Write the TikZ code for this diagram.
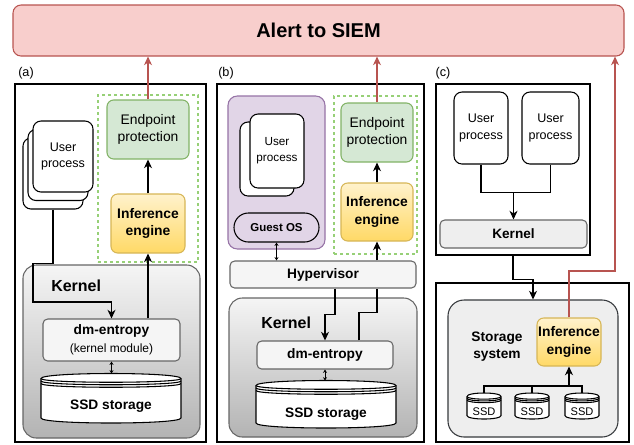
\documentclass[tikz,border=0pt]{standalone}
\usepackage{fontspec}
\setmainfont{Liberation Sans}
\usetikzlibrary{arrows.meta}
\definecolor{alertfill}{HTML}{F8CECC}
\definecolor{alertline}{HTML}{B85450}
\definecolor{epfill}{HTML}{D5E8D4}
\definecolor{epline}{HTML}{82B366}
\definecolor{dashline}{HTML}{97D077}
\definecolor{ietop}{HTML}{FFF2CC}
\definecolor{iebot}{HTML}{FFD966}
\definecolor{ieline}{HTML}{D6B656}
\definecolor{vmfill}{HTML}{E1D5E7}
\definecolor{vmline}{HTML}{9673A6}
\definecolor{modfill}{HTML}{F5F5F5}
\definecolor{modline}{HTML}{666666}
\definecolor{kerbot}{HTML}{B3B3B3}
\definecolor{stfill}{HTML}{EEEEEE}
\definecolor{stline}{HTML}{36393D}

\tikzset{
  spot/.style n args={4}{at={({(#1+#3)/2},{(#2+#4)/2})},
    minimum width={(#3-#1)*0.75pt}, minimum height={(#4-#2)*0.75pt}},
  box/.style={inner sep=0pt, line width=0.8pt, align=center},
  panel/.style={box, draw, fill=white},
  alertbox/.style={box, draw=alertline, fill=alertfill, rounded corners=6pt, font=\fontsize{15}{18}\selectfont\bfseries},
  epbox/.style={box, draw=epline, fill=epfill, rounded corners=5pt, font=\fontsize{10.4}{12.75}\selectfont},
  iebox/.style={box, draw=ieline, top color=ietop, bottom color=iebot, rounded corners=5pt, font=\fontsize{10.4}{13.3}\selectfont\bfseries},
  dashbox/.style={box, draw=dashline, dash pattern=on 2.5pt off 2pt},
  userbox/.style={box, draw, fill=white, rounded corners=6pt, font=\fontsize{9.4}{12.4}\selectfont},
  modbox/.style={box, draw=modline, fill=modfill, rounded corners=3.5pt, font=\fontsize{10.3}{13.5}\selectfont\bfseries},
  kerbox/.style={box, draw=modline, top color=modfill, bottom color=kerbot, rounded corners=10pt},
  vmbox/.style={box, draw=vmline, fill=vmfill, rounded corners=7pt},
  osbox/.style={box, draw, fill=vmfill, rounded corners=10.8pt, font=\fontsize{8.6}{10}\selectfont\bfseries},
  stbox/.style={box, draw=stline, fill=stfill, rounded corners=12pt},
  kertext/.style={inner sep=0pt, font=\fontsize{12}{14}\selectfont\bfseries},
  boldtxt/.style={inner sep=0pt, align=center, font=\fontsize{10.3}{12.75}\selectfont\bfseries},
  smalltxt/.style={inner sep=0pt, font=\fontsize{8.3}{10}\selectfont},
  panellab/.style={inner sep=0pt, font=\fontsize{9.5}{11}\selectfont},
  dstore/.style={draw, fill=white, line width=0.8pt},
  arr/.style={-{Stealth[length=6.5pt, width=6pt, inset=2pt]}, line width=0.8pt},
  redarr/.style={arr, draw=alertline},
  dbl/.style={{Stealth[length=2.5pt, width=3pt]}-{Stealth[length=2.5pt, width=3pt]}, line width=0.5pt}
}

% x1 y1 x2 y2 dy name-of-top
\newcommand{\datastore}[6]{%
  \draw[dstore] (#1,#2+#5) .. controls (#1,#2-#5/3) and (#3,#2-#5/3) .. (#3,#2+#5)
    -- (#3,#4-#5) .. controls (#3,#4+#5/3) and (#1,#4+#5/3) .. (#1,#4-#5) -- cycle;
  \foreach \k in {0,0.5,1}
    \draw[line width=0.8pt] (#1,#2+#5+\k*#5) .. controls (#1,#2+2*#5+\k*#5) and (#3,#2+2*#5+\k*#5) .. (#3,#2+#5+\k*#5);
  \coordinate (#6) at ({(#1+#3)/2},#2);
}

\begin{document}
\begin{tikzpicture}[x=0.75pt, y=-0.75pt]
\useasboundingbox (0,0) rectangle (634,444);

% alert
\node[alertbox, spot={13}{5}{624}{56}] (alert) {Alert to SIEM};

% (a) host
\node[panellab] (labA) at (26,73) {(a)};
\node[panel, spot={15}{84}{206}{442}] (outA) {};
\node[dashbox, spot={98}{95}{198}{262}] (dashA) {};
\node[epbox, spot={107}{100}{189}{159}] (epA) {Endpoint\\protection};
\node[iebox, spot={111}{194}{185}{253}] (ieA) {Inference\\engine};
\node[userbox, spot={23}{138}{83}{209}] (userA3) {};
\node[userbox, spot={28}{129.5}{88}{200.5}] (userA2) {};
\node[userbox, spot={33}{121}{93}{192}] (userA) {User\\process};
\node[kerbox, spot={23}{265}{200}{438}] (kerA) {};
\node[kertext, anchor=west] (kerlabA) at (51,286) {Kernel};
\node[modbox, spot={43}{319}{180}{361}] (dmA) {dm-entropy\\\fontsize{9}{11}\selectfont\mdseries (kernel module)};
\datastore{41}{373.5}{181}{423}{5}{ssdtopA}
\node[boldtxt] (ssdA) at (111,406) {SSD storage};

\draw[arr] (userA3.south) -- ++(0,54) -| (33,302) -| (dmA.north);
\draw[arr] (ieA.south |- dmA.north) -- (ieA.south);
\draw[arr] (ieA.north) -- (epA.south);
\draw[redarr] (epA.north) -- (epA.north |- alert.south);
\draw[dbl] (dmA.south) -- (dmA.south |- ssdtopA);

% (b) virtual machine
\node[panellab] (labB) at (226,73) {(b)};
\node[panel, spot={217}{84}{424}{442}] (outB) {};
\node[vmbox, spot={228}{96}{325}{249}] (vmB) {};
\node[userbox, spot={240}{122}{294}{196}] (userB2) {};
\node[userbox, font=\fontsize{8.8}{12}\selectfont, spot={250}{114}{304}{188}] (userB) {User\\process};
\node[osbox, spot={234}{213}{319}{242}] (osB) {Guest OS};
\node[dashbox, spot={334}{96}{417}{254}] (dashB) {};
\node[epbox, spot={341}{103}{413}{162}] (epB) {Endpoint\\protection};
\node[iebox, spot={341}{183}{413}{241}] (ieB) {Inference\\engine};
\node[modbox, spot={230}{261}{416}{288}] (hypB) {Hypervisor};
\node[kerbox, spot={229}{298}{417}{437}] (kerB) {};
\node[kertext, anchor=west] (kerlabB) at (261,323) {Kernel};
\node[modbox, spot={257}{341}{393}{369}] (dmB) {dm-entropy};
\datastore{256}{380.5}{396}{428}{5}{ssdtopB}
\node[boldtxt] (ssdB) at (326,414) {SSD storage};

\draw[dbl] (osB.south) -- (osB.south |- hypB.north);
\draw[arr] (hypB.north -| ieB.south) -- (ieB.south);
\draw[arr] (ieB.north) -- (epB.south);
\draw[redarr] (epB.north) -- (epB.north |- alert.south);
\draw[arr] (hypB.south -| 335,0) -- ++(0,26) -| (dmB.north);
\draw[line width=0.8pt] (dmB.north -| 359,0) -- ++(0,-28) -| (hypB.south -| ieB.south);
\draw[dbl] (dmB.south) -- (dmB.south |- ssdtopB);

% (c) computational storage
\node[panellab] (labC) at (443,73) {(c)};
\node[panel, spot={436}{84}{590}{255}] (topC) {};
\node[userbox, spot={454}{92}{508}{164}] (userC1) {User\\process};
\node[userbox, spot={522}{92}{579}{164}] (userC2) {User\\process};
\node[modbox, fill=stfill, font=\fontsize{10.2}{12}\selectfont\bfseries, spot={440}{220}{587}{248}] (kerC) {Kernel};
\node[panel, spot={436}{283}{629}{442}] (botC) {};
\node[stbox, spot={448}{300}{618}{437}] (stC) {};
\node[boldtxt] (stlabC) at (497,347) {Storage\\system};
\node[iebox, spot={537}{318}{601}{366}] (ieC) {Inference\\engine};
\datastore{467}{393}{501}{419}{3.5}{ssdtopC1}
\datastore{515}{393}{549}{419}{3.5}{ssdtopC2}
\datastore{565}{393}{599}{419}{3.5}{ssdtopC3}
\node[smalltxt] (ssdC1) at (484,412) {SSD};
\node[smalltxt] (ssdC2) at (532,412) {SSD};
\node[smalltxt] (ssdC3) at (582,412) {SSD};

\draw[line width=0.8pt] (userC1.south) -- ++(0,28) -| (userC2.south);
\draw[arr] (kerC.north |- 0,192) -- (kerC.north);
\draw[arr] (topC.south) -- ++(0,24) -| (stC.north);
\draw[line width=0.8pt] (ssdtopC1) -- ++(0,-7) -| (ssdtopC3);
\draw[line width=0.8pt] (ssdtopC2) -- (ssdtopC2 |- 0,386);
\draw[arr] (ieC.south |- 0,386) -- (ieC.south);
\draw[redarr] (ieC.north) |- (615,271) -- (alert.south -| 615,0);
\end{tikzpicture}
\end{document}
